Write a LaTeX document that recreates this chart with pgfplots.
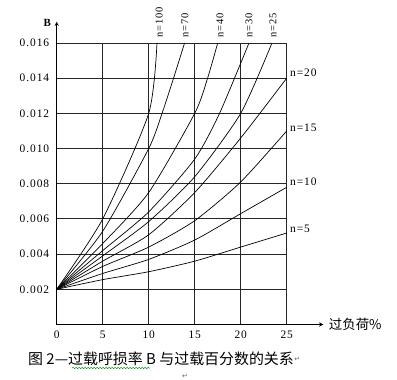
\documentclass[border=0pt]{standalone}
\usepackage{pgfplots}
\pgfplotsset{compat=1.18}
\usepackage{fontspec}
\setmainfont{Liberation Serif}
\newfontfamily\lbl[LetterSpace=8]{Liberation Serif}
\newfontfamily\cjk{Noto Sans CJK SC}
\newfontfamily\sym{DejaVu Sans}
\usetikzlibrary{decorations.pathmorphing}
\begin{document}
\begin{tikzpicture}[x=1bp,y=1bp]
\useasboundingbox (-56.7,-55.5) rectangle (340.3,324.5);
\begin{axis}[
  at={(0,0)}, anchor=south west,
  scale only axis, width=230bp, height=281.5bp,
  xmin=0, xmax=25, ymin=0, ymax=0.016,
  axis line style={draw=none},
  clip=false,
  xtick={0,5,10,15,20,25},
  ytick={0.002,0.004,0.006,0.008,0.010,0.012,0.014,0.016},
  major tick length=0pt,
  scaled y ticks=false,
  /pgf/number format/assume math mode=true,
  yticklabel style={/pgf/number format/fixed, /pgf/number format/precision=3, /pgf/number format/fixed zerofill, font=\lbl\fontsize{11.5}{12}\selectfont, xshift=-4bp},
  xticklabel style={font=\lbl\fontsize{11.5}{12}\selectfont, yshift=-3bp},
]
% grid
\foreach \xx in {5,10,15,20,25} {
  \edef\tmp{\noexpand\draw[black!85, line width=0.9bp] (axis cs:\xx,0) -- (axis cs:\xx,0.016);}\tmp
}
\foreach \yy in {0.002,0.004,0.006,0.008,0.010,0.012,0.014,0.016} {
  \edef\tmp{\noexpand\draw[black!85, line width=0.9bp] (axis cs:0,\yy) -- (axis cs:25,\yy);}\tmp
}
\pgfplotsset{cv/.style={black, line width=0.7bp, smooth, tension=0.4, no marks}}
% n=5
\addplot[cv] coordinates {(0,0.002)(5,0.00255)(10,0.0030)(15,0.0036)(20,0.0044)(25,0.0052)};
% n=10
\addplot[cv] coordinates {(0,0.002)(5,0.0029)(10,0.0037)(15,0.0048)(20,0.0063)(25,0.0078)};
% n=15
\addplot[cv] coordinates {(0,0.002)(5,0.0033)(10,0.0044)(15,0.0059)(20,0.0081)(25,0.0110)};
% n=20
\addplot[cv] coordinates {(0,0.002)(5,0.0036)(10,0.0051)(15,0.0075)(20,0.0106)(25,0.0140)};
% n=25
\addplot[cv] coordinates {(0,0.002)(5,0.0039)(10,0.00585)(15,0.0084)(20,0.0120)(23.4,0.016)};
% n=30
\addplot[cv] coordinates {(0,0.002)(5,0.0042)(10,0.0064)(15,0.0094)(17.7,0.0120)(20.9,0.016)};
% n=40
\addplot[cv] coordinates {(0,0.002)(5,0.0046)(10,0.0075)(15,0.0120)(16.4,0.0140)(17.5,0.016)};
% n=70
\addplot[cv] coordinates {(0,0.002)(5,0.0053)(10,0.0100)(11.45,0.012)(12.7,0.014)(13.9,0.016)};
% n=100
\addplot[cv] coordinates {(0,0.002)(5,0.0060)(10,0.0120)(10.9,0.016)};
% top labels
\foreach \xx/\lab in {11.15/100,13.95/70,17.75/40,20.9/30,23.5/25} {
  \edef\tmp{\noexpand\node[rotate=90, anchor=west, inner sep=0pt, font=\noexpand\lbl\noexpand\fontsize{10.5}{10}\noexpand\selectfont] at (axis cs:\xx,0.0163) {n=\lab};}\tmp
}
% right labels
\node[anchor=west, inner sep=0pt, font=\lbl\fontsize{11.5}{12}\selectfont] at (axis cs:25.35,0.0143) {n=20};
\node[anchor=west, inner sep=0pt, font=\lbl\fontsize{11.5}{12}\selectfont] at (axis cs:25.35,0.01118) {n=15};
\node[anchor=west, inner sep=0pt, font=\lbl\fontsize{11.5}{12}\selectfont] at (axis cs:25.35,0.00812) {n=10};
\node[anchor=west, inner sep=0pt, font=\lbl\fontsize{11.5}{12}\selectfont] at (axis cs:25.35,0.00543) {n=5};
\end{axis}
% axes with arrows
\draw[black, line width=0.9bp, -stealth] (0,0) -- (0,302.8);
\draw[black, line width=0.9bp, -stealth] (0,0) -- (266.6,0);
\node[font=\bfseries\fontsize{11}{11}\selectfont] at (-9.5,302) {B};
\node[anchor=west, inner sep=0pt, font=\cjk\fontsize{13.5}{14}\selectfont] at (272,0) {过负荷\%};
% caption
\node[anchor=west, inner sep=0pt, font=\cjk\fontsize{15}{16}\selectfont] (cap) at (-28.7,-34.5) {图 2—过载呼损率 B 与过载百分数的关系};
\node[anchor=west, inner sep=0pt, font=\sym\fontsize{7}{7}\selectfont, text=black!60] at (cap.east) {↵};
\node[inner sep=0pt, font=\sym\fontsize{7}{7}\selectfont, text=black!60] at (128.3,-52) {↵};
\draw[green!55!black, line width=0.5bp, decorate, decoration={snake, amplitude=0.7bp, segment length=3bp}] (15.5,-43.5) -- (93.5,-43.5);
\end{tikzpicture}
\end{document}
